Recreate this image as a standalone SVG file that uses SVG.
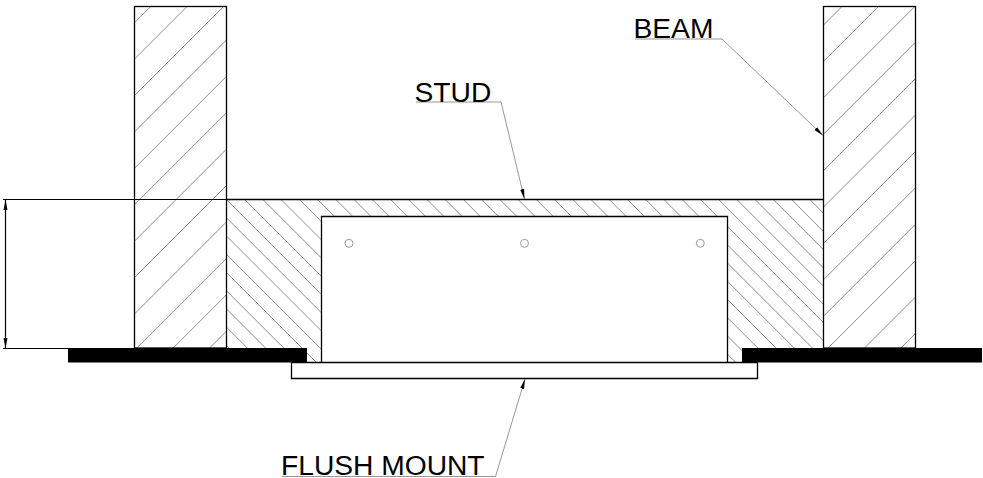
<svg xmlns="http://www.w3.org/2000/svg" width="983" height="478" viewBox="0 0 983 478">
<style>
.o{fill:none;stroke:#000;stroke-width:1.3}
.h{stroke:#666;stroke-width:.75;fill:none}
.l{fill:none;stroke:#8a8a8a;stroke-width:.9}
.d{fill:none;stroke:#000;stroke-width:1.2}
.b{fill:#000}
.c{fill:#fff;stroke:#999;stroke-width:1}
text{font-family:"Liberation Sans",Arial,sans-serif;font-size:28.2px;fill:#000}
</style>
<defs>
<clipPath id="cl"><rect x="134.5" y="6.5" width="92" height="341.5"/></clipPath>
<clipPath id="cr"><rect x="823.5" y="6.5" width="92" height="341.5"/></clipPath>
<clipPath id="cs"><polygon points="226.5,199.5 823.5,199.5 823.5,362 727.5,362 727.5,216.5 321.5,216.5 321.5,362 226.5,362"/></clipPath>
<marker id="a" markerUnits="userSpaceOnUse" markerWidth="11" markerHeight="6" refX="10" refY="3" orient="auto-start-reverse"><path d="M0 1L10 3L0 5Z" fill="#000"/></marker>
</defs>
<rect width="983" height="478" fill="#fff"/>
<g id="stud">
<path class="h" clip-path="url(#cs)" d="M80.56 199.5l162.5 162.5M98.79 199.5l162.5 162.5M117.02 199.5l162.5 162.5M135.25 199.5l162.5 162.5M153.48 199.5l162.5 162.5M171.71 199.5l162.5 162.5M189.94 199.5l162.5 162.5M208.17 199.5l162.5 162.5M226.4 199.5l162.5 162.5M244.63 199.5l162.5 162.5M262.86 199.5l162.5 162.5M281.09 199.5l162.5 162.5M299.32 199.5l162.5 162.5M317.55 199.5l162.5 162.5M335.78 199.5l162.5 162.5M354.01 199.5l162.5 162.5M372.24 199.5l162.5 162.5M390.47 199.5l162.5 162.5M408.7 199.5l162.5 162.5M426.93 199.5l162.5 162.5M445.16 199.5l162.5 162.5M463.39 199.5l162.5 162.5M481.62 199.5l162.5 162.5M499.85 199.5l162.5 162.5M518.08 199.5l162.5 162.5M536.31 199.5l162.5 162.5M554.54 199.5l162.5 162.5M572.77 199.5l162.5 162.5M591 199.5l162.5 162.5M609.23 199.5l162.5 162.5M627.46 199.5l162.5 162.5M645.69 199.5l162.5 162.5M663.92 199.5l162.5 162.5M682.15 199.5l162.5 162.5M700.38 199.5l162.5 162.5M718.61 199.5l162.5 162.5M736.84 199.5l162.5 162.5M755.07 199.5l162.5 162.5M773.3 199.5l162.5 162.5M791.53 199.5l162.5 162.5M809.76 199.5l162.5 162.5"/>
<path class="o" d="M226.5 199.5H823.5"/>
</g>
<g id="beam-left">
<path class="h" clip-path="url(#cl)" d="M134.5 22.7l92 -92M134.5 59.1l92 -92M134.5 95.5l92 -92M134.5 131.9l92 -92M134.5 168.3l92 -92M134.5 204.7l92 -92M134.5 241.1l92 -92M134.5 277.5l92 -92M134.5 313.9l92 -92M134.5 350.3l92 -92M134.5 386.7l92 -92M134.5 423.1l92 -92M134.5 459.5l92 -92"/>
<rect class="o" x="134.5" y="6.5" width="92" height="341.5"/>
</g>
<g id="beam-right">
<path class="h" clip-path="url(#cr)" d="M823.5 25l92 -92M823.5 61.4l92 -92M823.5 97.8l92 -92M823.5 134.2l92 -92M823.5 170.6l92 -92M823.5 207l92 -92M823.5 243.4l92 -92M823.5 279.8l92 -92M823.5 316.2l92 -92M823.5 352.6l92 -92M823.5 389l92 -92M823.5 425.4l92 -92M823.5 461.8l92 -92"/>
<rect class="o" x="823.5" y="6.5" width="92" height="341.5"/>
</g>
<g id="opening">
<path class="o" d="M321.5 362V216.5H727.5V362"/>
<circle class="c" cx="349" cy="243.3" r="4"/>
<circle class="c" cx="524.5" cy="243.3" r="4"/>
<circle class="c" cx="700.3" cy="243.3" r="4"/>
</g>
<g id="flush-mount">
<path class="o" d="M291.5 362.5V378.5H757.5V362.5M291.5 362.5H757.5"/>
</g>
<g id="plate-left"><rect class="b" x="68" y="348" width="239" height="14.5"/></g>
<g id="plate-right"><rect class="b" x="742" y="348" width="240" height="14.5"/></g>
<g id="connectors">
<path class="d" d="M3 199.5H226.5M3 348.5H134.5"/>
<line class="d" x1="5.5" y1="200" x2="5.5" y2="348" marker-start="url(#a)" marker-end="url(#a)"/>
<polyline class="l" points="635,39 722,39 823,135.5" marker-end="url(#a)"/>
<polyline class="l" points="416,102 501,102 524.5,199" marker-end="url(#a)"/>
<polyline class="l" points="282,476.5 495.5,476.5 525,379" marker-end="url(#a)"/>
</g>
<g id="labels">
<text x="633.5" y="38">BEAM</text>
<text x="414.5" y="101.5">STUD</text>
<text x="281" y="475">FLUSH MOUNT</text>
</g>
</svg>
